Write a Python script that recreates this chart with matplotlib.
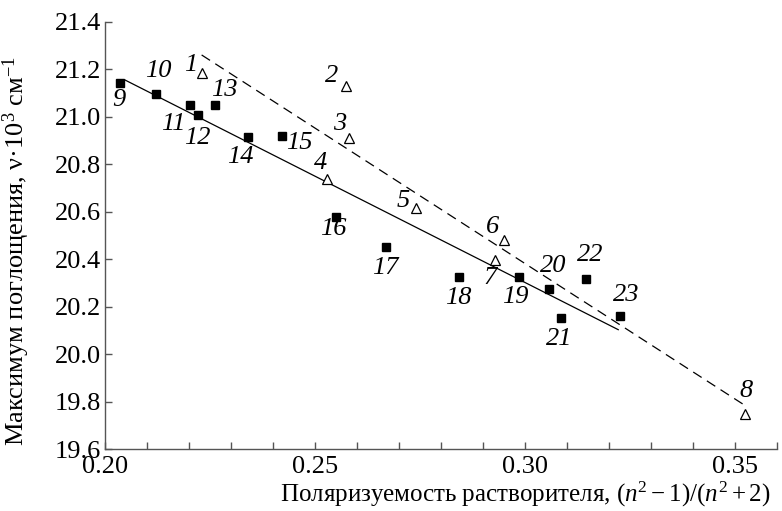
import numpy as np
import matplotlib
matplotlib.use('Agg')
import matplotlib.pyplot as plt
from matplotlib.ticker import MultipleLocator

plt.rcParams['font.family'] = ['Liberation Serif', 'DejaVu Serif']
plt.rcParams['mathtext.fontset'] = 'custom'
plt.rcParams['mathtext.rm'] = 'Liberation Serif'
plt.rcParams['mathtext.it'] = 'Liberation Serif:italic'

# open triangles, points 1-8
tri_ids = [1, 2, 3, 4, 5, 6, 7, 8]
tri_x = [0.2231, 0.2573, 0.2581, 0.2528, 0.2740, 0.2950, 0.2929, 0.3525]
tri_y = [21.185, 21.131, 20.912, 20.738, 20.614, 20.483, 20.396, 19.749]

# filled squares, points 9-23
sq_ids = [9, 10, 11, 12, 13, 14, 15, 16, 17, 18, 19, 20, 21, 22, 23]
sq_x = [0.2036, 0.2121, 0.2202, 0.2221, 0.2262, 0.2340, 0.2422, 0.2549,
        0.2669, 0.2842, 0.2986, 0.3057, 0.3086, 0.3145, 0.3226]
sq_y = [21.141, 21.097, 21.051, 21.009, 21.049, 20.916, 20.919, 20.579,
        20.452, 20.325, 20.325, 20.273, 20.154, 20.317, 20.160]

# fitted lines (end points)
solid_x = [0.2048, 0.3222]
solid_y = [21.155, 20.103]
dash_x = [0.2230, 0.3520]
dash_y = [21.261, 19.788]

# label offsets in pixels (dx, dy)
tri_off = [(-11, 8), (-14, 10), (-9, 14), (-6, 16), (-13, 7), (-11, 13), (-5, -18), (1, 23)]
sq_off = [(-1, -17), (2, 23), (-17, -19), (-1, -23), (9, 15), (-8, -20), (17, -7), (-2, -12),
          (-1, -21), (0, -21), (-4, -20), (4, 23), (-2, -21), (4, 24), (6, 21)]

fig = plt.figure(figsize=(7.82, 5.11), dpi=100)
ax = fig.add_axes([0.1343, 0.1213, 0.8593, 0.8357])

spine_col = '#555555'
fs = 19

ax.plot(solid_x, solid_y, color='black', lw=0.9)
ax.plot(dash_x, dash_y, color='black', lw=0.9, linestyle=(0, (8, 5)))
ax.plot(sq_x, sq_y, 's', color='black', ms=6.2, mec='black')
ax.plot(tri_x, tri_y, '^', mfc='white', mec='black', ms=7, mew=0.9)

for i, x, y, off in zip(tri_ids, tri_x, tri_y, tri_off):
    ax.annotate(str(i), (x, y), xytext=off, textcoords='offset pixels',
                ha='center', va='center', fontsize=fs, style='italic')
for i, x, y, off in zip(sq_ids, sq_x, sq_y, sq_off):
    ax.annotate(str(i), (x, y), xytext=off, textcoords='offset pixels',
                ha='center', va='center', fontsize=fs, style='italic')

ax.set_xlim(0.20, 0.36)
ax.set_ylim(19.6, 21.4)
ax.xaxis.set_minor_locator(MultipleLocator(0.01))
ax.set_xticks([0.20, 0.25, 0.30, 0.35])
ax.set_xticklabels(['0.20', '0.25', '0.30', '0.35'])
ax.set_yticks(np.arange(19.6, 21.41, 0.2))
ax.set_yticklabels([f'{v:.1f}' for v in np.arange(19.6, 21.41, 0.2)])

for s in ['top', 'right']:
    ax.spines[s].set_visible(False)
for s in ['left', 'bottom']:
    ax.spines[s].set_color(spine_col)
    ax.spines[s].set_linewidth(1.0)

ax.tick_params(axis='both', which='both', direction='in', color=spine_col, width=1.0,
               labelsize=fs)
ax.tick_params(axis='both', which='major', length=5)
ax.tick_params(axis='x', which='minor', length=5)
ax.tick_params(axis='x', pad=5)
ax.tick_params(axis='y', pad=3)

ax.set_xlabel('Поляризуемость растворителя, $(n^2 - 1)/(n^2 + 2)$', fontsize=18, loc='right')
ax.xaxis.set_label_coords(0.99, -0.072)
ax.set_ylabel('Максимум поглощения, ν·10$^3$ см$^{-1}$', fontsize=fs)
ax.yaxis.set_label_coords(-0.109, 0.463)

fig.savefig('out.png', dpi=100)
